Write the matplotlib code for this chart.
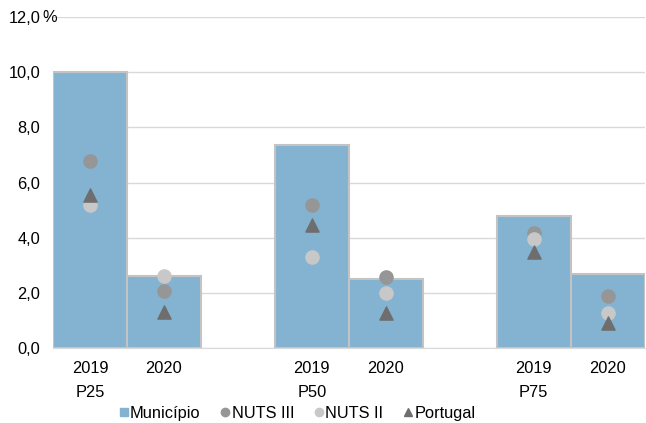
import numpy as np
import matplotlib.pyplot as plt
from matplotlib.ticker import FuncFormatter
from matplotlib.lines import Line2D

plt.rcParams["font.family"] = ["Liberation Sans", "DejaVu Sans"]

groups = ["P25", "P50", "P75"]
years = ["2019", "2020"]
municipio = [10.0, 2.6, 7.35, 2.5, 4.8, 2.7]
nuts3 = [6.78, 2.07, 5.2, 2.58, 4.17, 1.88]
nuts2 = [5.2, 2.6, 3.3, 2.0, 3.95, 1.27]
portugal = [5.55, 1.3, 4.45, 1.28, 3.5, 0.9]

# two bars per group, one empty slot between groups
pos = np.array([0, 1, 3, 4, 6, 7])

fig = plt.figure(figsize=(6.46, 4.23), dpi=100)
ax = fig.add_axes([0.082, 0.177, 0.916, 0.783])

ax.bar(pos, municipio, width=1.0, color="#84B3D2", edgecolor="#C3C3C3",
       linewidth=1.5, zorder=2)
ax.scatter(pos, nuts3, s=90, color="#969696", marker="o", zorder=3)
ax.scatter(pos, nuts2, s=90, color="#C8C8C8", marker="o", zorder=3)
ax.scatter(pos, portugal, s=90, color="#6E6E6E", marker="^", zorder=4)

ax.set_xlim(-0.5, 7.5)
ax.set_ylim(0, 12)
ax.set_yticks(np.arange(0, 12.1, 2))
ax.yaxis.set_major_formatter(FuncFormatter(lambda v, p: f"{v:.1f}".replace(".", ",")))
ax.grid(axis="y", color="#D9D9D9", linewidth=1, zorder=0)
ax.set_axisbelow(True)
for s in ["top", "right", "left"]:
    ax.spines[s].set_visible(False)
ax.spines["bottom"].set_color("#D9D9D9")
ax.tick_params(axis="y", length=0, labelsize=11.8, pad=9)
ax.set_xticks(pos)
ax.set_xticklabels(years * 3)
ax.tick_params(axis="x", length=0, labelsize=11.8, pad=9)
for i, g in enumerate(groups):
    ax.text(pos[2 * i], -1.6, g, ha="center", va="center", fontsize=11.8)
fig.text(42 / 646, 1 - 18 / 423, "%", ha="left", va="center", fontsize=11.8)

handles = [
    Line2D([], [], ls="none", marker="s", ms=6, color="#84B3D2"),
    Line2D([], [], ls="none", marker="o", ms=6, color="#969696"),
    Line2D([], [], ls="none", marker="o", ms=6, color="#C8C8C8"),
    Line2D([], [], ls="none", marker="^", ms=6, color="#6E6E6E"),
]
labels = ["Município", "NUTS III", "NUTS II", "Portugal"]
fig.legend(handles, labels, loc="center", bbox_to_anchor=(0.46, 1 - 413 / 423), ncol=4,
           frameon=False, fontsize=11.8, handlelength=0.6, handletextpad=0.1,
           columnspacing=1.2, borderpad=0)

fig.savefig("out.png", dpi=100)
